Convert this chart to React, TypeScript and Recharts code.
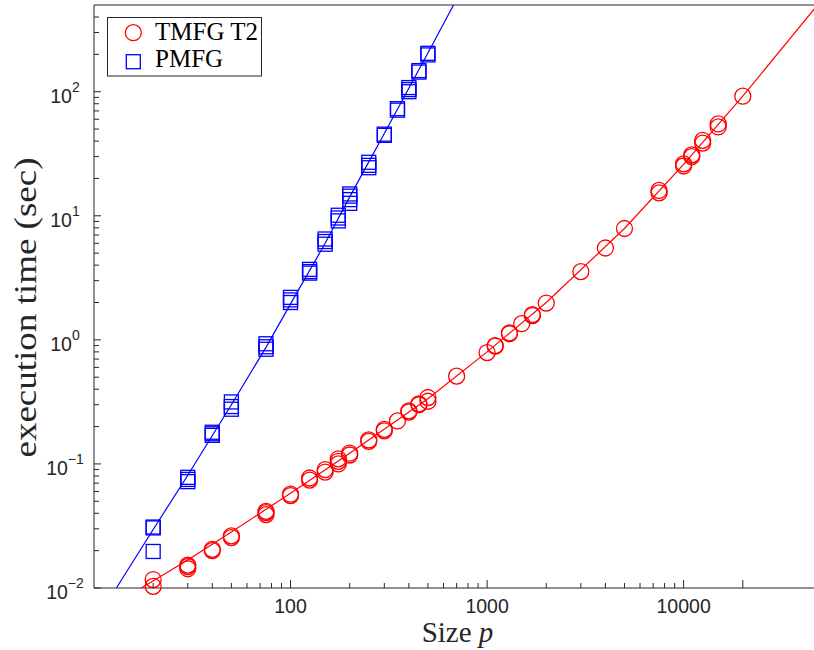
import React from 'react';
import { ScatterChart, Scatter, XAxis, YAxis, Legend } from 'recharts';

// problem size p for each benchmark, with the timings of the repeated runs (sec)
const pmfgSizes = [20, 30, 40, 50, 75, 100, 125, 150, 175, 200, 250, 300, 350, 400, 450, 500];
const pmfgTimes = [
  [0.0197, 0.0305, 0.031],
  [0.072, 0.075, 0.078],
  [0.17, 0.175, 0.18],
  [0.276, 0.29, 0.316],
  [0.84, 0.88, 0.93],
  [2.0, 2.1, 2.2],
  [3.45, 3.55, 3.7],
  [5.9, 6.2, 6.5],
  [9.1, 9.6, 10.1],
  [12.6, 13.5, 14.4, 15.0],
  [24.4, 25.5, 27],
  [44.5, 45.5],
  [71, 73],
  [100, 104, 108],
  [144, 148],
  [198, 204],
];

const tmfgSizes = [
  20, 30, 40, 50, 75, 100, 125, 150, 175, 200, 250, 300, 350, 400, 450, 500,
  700, 1000, 1100, 1300, 1500, 1700, 2000, 3000, 4000, 5000, 7500, 10000, 11000, 12500, 15000, 20000,
];
const tmfgTimes = [
  [0.0103, 0.0117],
  [0.0143, 0.0149, 0.0153],
  [0.02, 0.0205],
  [0.0255, 0.0263],
  [0.039, 0.0405, 0.0415],
  [0.0555, 0.057],
  [0.074, 0.077],
  [0.086, 0.09],
  [0.1, 0.105, 0.11],
  [0.118, 0.122],
  [0.152, 0.156],
  [0.185, 0.19],
  [0.222],
  [0.262, 0.268],
  [0.3, 0.305],
  [0.32, 0.343],
  [0.51],
  [0.79],
  [0.89, 0.9],
  [1.12, 1.14],
  [1.35],
  [1.57, 1.6],
  [1.98],
  [3.55],
  [5.5],
  [7.9],
  [15.3, 16.0],
  [25.2, 26.2],
  [30.0, 31.0],
  [38.5, 40.5],
  [52, 55],
  [92],
];

// fitted curves
const pmfgFitP = [13, 20, 30, 50, 75, 100, 150, 200, 300, 500, 675];
const pmfgFitT = [0.01, 0.0296, 0.081, 0.3, 0.87, 1.95, 6.0, 14.2, 46, 205, 500];
const tmfgFitP = [17.4, 30, 50, 100, 200, 500, 1000, 2000, 5000, 10000, 20000, 48000];
const tmfgFitT = [0.01, 0.0168, 0.0283, 0.058, 0.122, 0.335, 0.8, 2.0, 7.9, 26, 92, 500];

// axes
const xDomain = [10, 50000];
const yDomain = [0.01, 500];
const xTicks = [
  20, 30, 40, 50, 60, 70, 80, 90, 100, 200, 300, 400, 500, 600, 700, 800, 900,
  1000, 2000, 3000, 4000, 5000, 6000, 7000, 8000, 9000, 10000, 20000,
];
const xMajorTicks = [100, 1000, 10000, 20000];
const xLabelTicks = [100, 1000, 10000];
const yDecades = [0.01, 0.1, 1, 10, 100];
const yExponents = ['\u22122', '\u22121', '0', '1', '2'];
const yTicks = yDecades
  .flatMap(d => [1, 2, 3, 4, 5, 6, 7, 8, 9].map(m => d * m))
  .filter(v => v < 500);

const AXIS = '#262626';
const SANS = '"Liberation Sans", Arial, Helvetica, sans-serif';
const SERIF = '"Liberation Serif", "Times New Roman", serif';

const flatten = (sizes: number[], times: number[][]) =>
  sizes.flatMap((p, i) => times[i].map(t => ({ p, t })));
const pairs = (ps: number[], ts: number[]) => ps.map((p, i) => ({ p, t: ts[i] }));

const pmfgData = flatten(pmfgSizes, pmfgTimes);
const tmfgData = flatten(tmfgSizes, tmfgTimes);
const pmfgFit = pairs(pmfgFitP, pmfgFitT);
const tmfgFit = pairs(tmfgFitP, tmfgFitT);

const Circle = ({ cx, cy }: any) => (
  <circle cx={cx} cy={cy} r={8} fill="none" stroke="#ff0000" strokeWidth={1.3} />
);
const Square = ({ cx, cy }: any) => (
  <rect x={cx - 7} y={cy - 7} width={14} height={14} fill="none" stroke="#0000ff" strokeWidth={1.3} />
);
const NoDot = () => <g />;

const BottomTick = ({ x, y, payload }: any) => {
  const v = payload.value;
  const len = xMajorTicks.includes(v) ? 8 : 5;
  return (
    <g>
      <line x1={x} x2={x} y1={y} y2={y - len} stroke={AXIS} />
      {xLabelTicks.includes(v) && (
        <text x={x} y={y + 25} textAnchor="middle" fontFamily={SANS} fontSize={19.5} fill={AXIS}>
          {v}
        </text>
      )}
    </g>
  );
};

const TopTick = ({ x, y, payload }: any) => {
  const len = xMajorTicks.includes(payload.value) ? 8 : 5;
  return <line x1={x} x2={x} y1={y} y2={y + len} stroke={AXIS} />;
};

const LeftTick = ({ x, y, payload }: any) => {
  const idx = yDecades.indexOf(payload.value);
  return (
    <g>
      <line x1={x} x2={x + (idx >= 0 ? 7 : 5)} y1={y} y2={y} stroke={AXIS} />
      {idx >= 0 && (
        <text x={x - 29} y={y + 11} textAnchor="middle" fontFamily={SANS} fontSize={19.5} fill={AXIS}>
          10
          <tspan dy={-11} fontSize={14}>
            {yExponents[idx]}
          </tspan>
        </text>
      )}
    </g>
  );
};

const XTitle = ({ viewBox }: any) => (
  <text
    x={viewBox.x + viewBox.width / 2}
    y={viewBox.y + 54}
    textAnchor="middle"
    fontFamily={SERIF}
    fontSize={29}
    fill={AXIS}
  >
    Size <tspan fontStyle="italic">p</tspan>
  </text>
);

const YTitle = ({ viewBox }: any) => {
  const cx = 36;
  const cy = viewBox.y + viewBox.height / 2 + 11;
  return (
    <text
      x={cx}
      y={cy}
      transform={`rotate(-90, ${cx}, ${cy})`}
      textAnchor="middle"
      fontFamily={SERIF}
      fontSize={32}
      textLength={300}
      lengthAdjust="spacingAndGlyphs"
      fill={AXIS}
    >
      execution time (sec)
    </text>
  );
};

const LegendBox = () => (
  <svg width={155} height={60} style={{ display: 'block' }}>
    <rect x={0.5} y={0.5} width={154} height={58.5} fill="#fff" stroke={AXIS} />
    <circle cx={26.3} cy={15.7} r={8} fill="none" stroke="#ff0000" strokeWidth={1.3} />
    <text x={48} y={22.7} fontFamily={SERIF} fontSize={25} fill="#000">TMFG T2</text>
    <rect x={19.3} y={37.7} width={14} height={14} fill="none" stroke="#0000ff" strokeWidth={1.3} />
    <text x={48} y={50} fontFamily={SERIF} fontSize={25} fill="#000">PMFG</text>
  </svg>
);

export default function App() {
  return (
    <div
      style={{
        position: 'absolute',
        left: 0,
        top: 0,
        width: 814,
        height: 650,
        overflow: 'hidden',
        background: '#fff',
      }}
    >
      <ScatterChart width={821} height={650} margin={{ top: 0, right: 0, bottom: 0, left: 0 }}>
        <XAxis
          type="number"
          dataKey="p"
          scale="log"
          domain={xDomain}
          ticks={xTicks}
          interval={0}
          height={62}
          tickSize={0}
          tickMargin={0}
          tick={<BottomTick />}
          axisLine={{ stroke: AXIS }}
          label={<XTitle />}
        />
        <XAxis
          xAxisId="top"
          orientation="top"
          type="number"
          dataKey="p"
          scale="log"
          domain={xDomain}
          ticks={xTicks}
          interval={0}
          height={5}
          tickSize={0}
          tickMargin={0}
          tick={<TopTick />}
          axisLine={{ stroke: AXIS }}
        />
        <YAxis
          type="number"
          dataKey="t"
          scale="log"
          domain={yDomain}
          ticks={yTicks}
          interval={0}
          width={94}
          tickSize={0}
          tickMargin={0}
          tick={<LeftTick />}
          axisLine={{ stroke: AXIS }}
          label={<YTitle />}
        />
        <Scatter data={tmfgData} shape={<Circle />} isAnimationActive={false} />
        <Scatter data={pmfgData} shape={<Square />} isAnimationActive={false} />
        <Scatter
          data={tmfgFit}
          shape={<NoDot />}
          line={{ stroke: '#ff0000', strokeWidth: 1.2 }}
          isAnimationActive={false}
        />
        <Scatter
          data={pmfgFit}
          shape={<NoDot />}
          line={{ stroke: '#0000ff', strokeWidth: 1.2 }}
          isAnimationActive={false}
        />
        <Legend
          layout="horizontal"
          align="center"
          verticalAlign="middle"
          content={<LegendBox />}
          wrapperStyle={{ left: 106.7, top: 17.3, width: 155, height: 60 }}
        />
      </ScatterChart>
    </div>
  );
}
